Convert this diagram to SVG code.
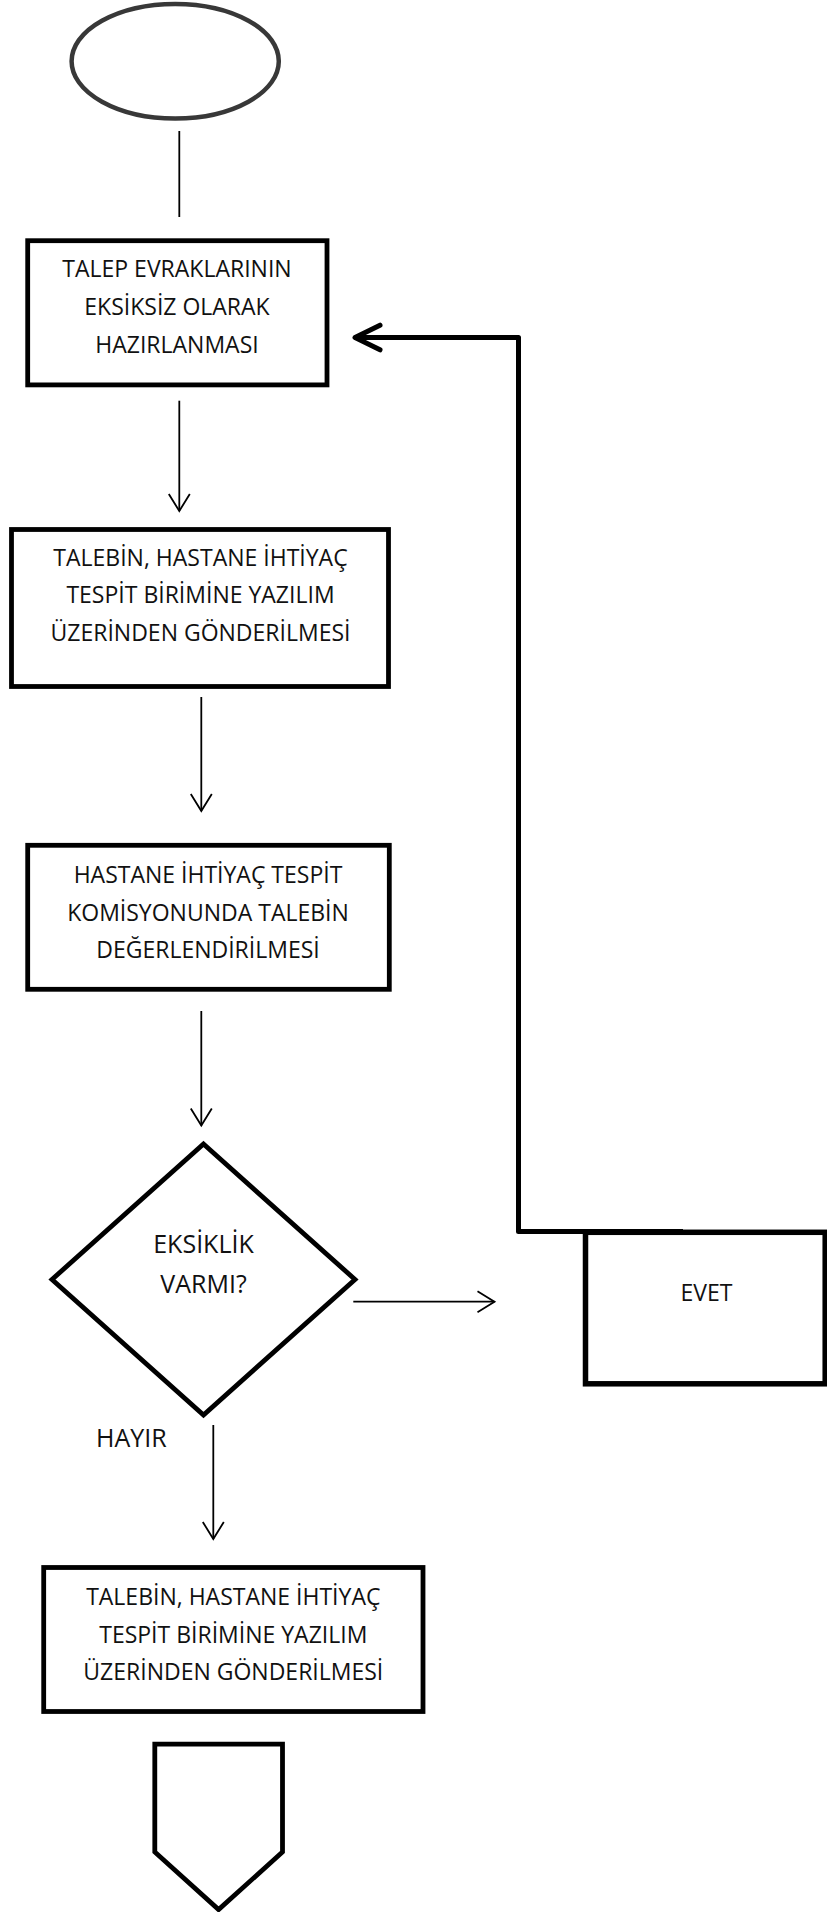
<svg xmlns="http://www.w3.org/2000/svg" width="827" height="1912" viewBox="0 0 827 1912">
<style>
  .box { fill: #ffffff; stroke: #000000; stroke-width: 4.8; }
  .term { fill: #ffffff; stroke: #383838; stroke-width: 4.5; }
  .lbl { font-family: "Open Sans", "Noto Sans", "DejaVu Sans", sans-serif; font-size: 23px; fill: #111111; text-anchor: middle; }
  .lbl-lg { font-family: "Open Sans", "Noto Sans", "DejaVu Sans", sans-serif; font-size: 25px; fill: #111111; text-anchor: middle; }
  .thin { fill: none; stroke: #000000; stroke-width: 1.8; }
  .thick { fill: none; stroke: #000000; stroke-width: 5; stroke-linejoin: round; }
</style>
<defs>
  <marker id="arrThin" markerUnits="userSpaceOnUse" viewBox="-20 -13 22 26" markerWidth="22" markerHeight="26" refX="0" refY="0" orient="auto">
    <path d="M -17 -10.5 L 0 0 L -17 10.5" fill="none" stroke="#000000" stroke-width="1.8"/>
  </marker>
  <marker id="arrThick" markerUnits="userSpaceOnUse" viewBox="-30 -16 34 32" markerWidth="34" markerHeight="32" refX="0" refY="0" orient="auto">
    <path d="M -25 -12.3 L 0 0 L -25 12.3" fill="none" stroke="#000000" stroke-width="5" stroke-linecap="round" stroke-linejoin="round"/>
  </marker>
</defs>

<g id="connectors">
  <line class="thin" x1="179.3" y1="131" x2="179.3" y2="217"/>
  <line class="thin" x1="179.3" y1="400.7" x2="179.3" y2="511" marker-end="url(#arrThin)"/>
  <line class="thin" x1="201.3" y1="697" x2="201.3" y2="811" marker-end="url(#arrThin)"/>
  <line class="thin" x1="201.3" y1="1011" x2="201.3" y2="1125.5" marker-end="url(#arrThin)"/>
  <line class="thin" x1="353.3" y1="1301.7" x2="494.5" y2="1301.7" marker-end="url(#arrThin)"/>
  <line class="thin" x1="213.3" y1="1425" x2="213.3" y2="1539" marker-end="url(#arrThin)"/>
  <path class="thick" d="M 683 1231.5 L 518.5 1231.5 L 518.5 337.5 L 355 337.5" marker-end="url(#arrThick)"/>
</g>

<g id="start">
  <ellipse class="term" cx="175.2" cy="61.2" rx="103.6" ry="57.3"/>
</g>

<g id="step1">
  <rect class="box" x="27.7" y="240.7" width="299.3" height="144.2"/>
  <text class="lbl" x="177" y="277">TALEP EVRAKLARININ</text>
  <text class="lbl" x="177" y="315.3">EKSİKSİZ OLARAK</text>
  <text class="lbl" x="177" y="353.3">HAZIRLANMASI</text>
</g>

<g id="step2">
  <rect class="box" x="11.5" y="529.5" width="377" height="157"/>
  <text class="lbl" x="200.5" y="566">TALEBİN, HASTANE İHTİYAÇ</text>
  <text class="lbl" x="200.5" y="603.3">TESPİT BİRİMİNE YAZILIM</text>
  <text class="lbl" x="200.5" y="641.3">ÜZERİNDEN GÖNDERİLMESİ</text>
</g>

<g id="step3">
  <rect class="box" x="27.7" y="845.3" width="361.6" height="144"/>
  <text class="lbl" x="208" y="882.7">HASTANE İHTİYAÇ TESPİT</text>
  <text class="lbl" x="208" y="920.7">KOMİSYONUNDA TALEBİN</text>
  <text class="lbl" x="208" y="958.3">DEĞERLENDİRİLMESİ</text>
</g>

<g id="decision">
  <polygon class="box" points="203.5,1144 355,1279.5 203.5,1415 52,1279.5"/>
  <text class="lbl-lg" x="203.5" y="1253">EKSİKLİK</text>
  <text class="lbl-lg" x="203.5" y="1293">VARMI?</text>
</g>

<g id="yes">
  <rect class="box" x="585.5" y="1232.3" width="239.7" height="151.5" style="stroke-width:5.5"/>
  <text class="lbl" x="706.5" y="1300.7">EVET</text>
</g>

<g id="no-label">
  <text class="lbl-lg" x="96" y="1447" style="text-anchor:start">HAYIR</text>
</g>

<g id="step4">
  <rect class="box" x="43.7" y="1567.5" width="379.3" height="144"/>
  <text class="lbl" x="233.3" y="1605">TALEBİN, HASTANE İHTİYAÇ</text>
  <text class="lbl" x="233.3" y="1642.7">TESPİT BİRİMİNE YAZILIM</text>
  <text class="lbl" x="233.3" y="1680">ÜZERİNDEN GÖNDERİLMESİ</text>
</g>

<g id="offpage">
  <polygon class="box" points="154.8,1744.2 282.5,1744.2 282.5,1852 218.6,1909.6 154.8,1852"/>
</g>
</svg>
